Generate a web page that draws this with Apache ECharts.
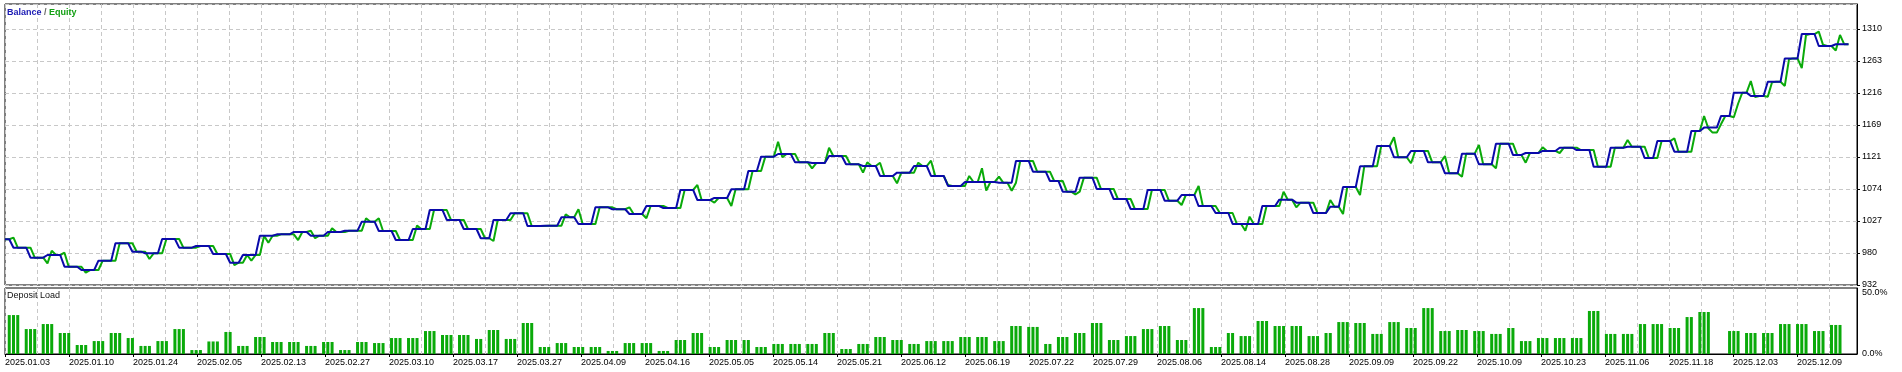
<!DOCTYPE html>
<html>
<head>
<meta charset="utf-8">
<script src="https://cdn.jsdelivr.net/npm/echarts@6/dist/echarts.min.js"></script>
<style>
html,body{margin:0;padding:0;background:#fff;}
#c{width:1902px;height:372px;}
</style>
</head>
<body>
<div id="c"></div>
<script>
// ---------------- DATA ----------------
const dateLabels = ['2025.01.03','2025.01.10','2025.01.24','2025.02.05','2025.02.13','2025.02.27','2025.03.10','2025.03.17','2025.03.27','2025.04.09','2025.04.16','2025.05.05','2025.05.14','2025.05.21','2025.06.12','2025.06.19','2025.07.22','2025.07.29','2025.08.06','2025.08.14','2025.08.28','2025.09.09','2025.09.22','2025.10.09','2025.10.23','2025.11.06','2025.11.18','2025.12.03','2025.12.09'];

const startBalance = 1000;
const lastSlot = 434;      // last sample index on the x axis
const slotCount = 437;     // number of sample positions across the panel

// sample index where each trade's deposit-load bars begin
const groupStart = [1,5,9,13,17,21,25,29,32,36,40,44,48,52,55,59,63,67,71,75,79,83,87,91,95,99,103,107,111,114,
118,122,126,130,134,138,142,146,150,154,158,162,166,170,174,177,181,185,189,193,197,201,205,209,213,217,221,225,229,233,
237,241,245,248,252,256,260,264,268,272,276,280,284,288,291,295,299,303,307,311,314,318,322,326,330,334,338,342,346,350,
354,357,361,365,369,373,377,381,385,388,392,396,399,403,406,410,414,418,422,426,430];

// number of deposit-load bars per trade
const groupBars = [3,3,3,3,3,3,3,2,3,3,3,3,3,2,3,3,3,3,3,3,3,3,3,3,3,3,3,3,2,3,
3,3,3,3,3,3,3,3,3,3,3,3,3,3,2,3,3,3,3,3,3,3,3,3,3,3,3,3,3,3,
3,3,2,3,3,3,3,3,3,3,3,3,3,2,3,3,3,3,3,2,3,3,3,3,3,3,3,3,3,3,
2,3,3,3,3,3,3,3,2,3,3,2,3,2,3,3,3,3,3,3,3];

// balance after each trade
const balanceAfter = [987.5,972.7,976.7,959.4,954.5,968.3,994.0,981.6,979.2,1000.3,987.5,990.0,978.2,965.3,976.7,1005.2,1007.2,1010.7,1005.2,1010.7,1012.6,1025.9,1012.1,998.8,1015.1,1043.1,1028.4,1015.1,1001.4,1028.4,
1038.3,1019.5,1020.0,1032.4,1022.5,1047.1,1044.2,1037.2,1049.0,1046.1,1072.7,1057.9,1060.9,1073.7,1100.7,1121.9,1125.8,1113.5,1112.5,1122.9,1110.6,1108.1,1093.4,1098.3,1108.1,1093.4,1078.6,1084.5,1084.5,1083.5,
1115.5,1099.7,1086.0,1070.2,1090.9,1074.2,1059.4,1044.6,1072.7,1056.9,1065.3,1049.0,1038.7,1022.5,1022.5,1049.0,1058.4,1054.0,1038.7,1048.0,1077.1,1107.6,1137.6,1121.0,1130.3,1113.6,1097.3,1126.3,1110.6,1141.0,
1124.4,1127.3,1130.3,1135.1,1131.7,1107.1,1135.1,1136.6,1119.9,1144.9,1129.2,1159.8,1164.8,1182.0,1216.4,1211.5,1232.6,1267.0,1303.0,1285.3,1287.8];

// equity at the first and second sample after each trade's balance change
const equityA = [1002.3,987.5,964.4,980.1,959.4,954.5,968.3,994.0,981.6,979.2,1000.3,987.5,990.0,978.2,965.3,976.7,1005.2,1007.2,1012.6,1005.2,1010.7,1012.6,1030.9,1012.1,998.8,1015.1,1043.1,1028.4,1015.1,997.4,
1028.4,1038.3,1019.5,1020.0,1044.2,1022.5,1047.1,1047.1,1030.9,1049.0,1046.1,1080.1,1054.0,1049.0,1073.7,1100.7,1144.0,1125.8,1104.7,1135.1,1122.9,1098.3,1113.0,1082.6,1098.3,1116.0,1080.0,1078.6,1104.7,1092.3,
1083.5,1115.5,1099.7,1086.0,1070.2,1090.9,1074.2,1059.4,1044.6,1072.7,1050.5,1078.6,1049.0,1038.7,1012.6,1022.5,1049.0,1047.1,1054.0,1057.9,1037.2,1065.3,1107.6,1150.5,1112.1,1130.3,1122.9,1092.3,1139.1,1104.7,
1141.0,1113.0,1135.7,1127.3,1135.1,1131.7,1107.1,1146.5,1136.6,1119.9,1149.0,1129.2,1182.0,1170.0,1180.0,1233.6,1210.5,1226.3,1252.6,1306.5,1278.5];

const equityB = [987.5,972.7,983.0,959.4,950.6,968.3,994.0,981.6,970.8,1000.3,987.5,990.0,978.2,961.9,976.7,1005.2,1007.2,998.8,1001.4,1016.1,1012.6,1030.9,1012.1,998.8,1020.1,1043.1,1028.4,1015.1,1001.4,1028.4,
1038.3,1019.5,1020.0,1036.8,1022.5,1047.1,1044.2,1037.2,1049.0,1046.1,1072.7,1057.9,1060.9,1073.7,1100.7,1121.9,1121.0,1113.5,1112.5,1122.9,1110.6,1113.6,1093.4,1098.3,1113.0,1093.4,1078.6,1093.4,1071.7,1083.5,
1115.5,1099.7,1086.0,1070.2,1090.9,1074.2,1059.4,1044.6,1072.7,1056.9,1065.3,1049.0,1038.7,1022.5,1033.3,1049.0,1070.2,1054.0,1038.7,1048.0,1077.1,1107.6,1137.6,1121.0,1130.3,1113.6,1097.3,1126.3,1110.6,1141.0,
1124.4,1127.3,1130.3,1135.1,1131.7,1107.1,1135.1,1136.6,1119.9,1144.9,1129.2,1159.8,1163.8,1182.0,1200.0,1210.0,1231.9,1265.8,1301.6,1287.0,1301.6];

// other equity excursions: [sample index, equity]
const equityExtra = [[58,968.3],[62,994.9],[237,1071.7],[252,1066.0],[402,1157.4],[403,1157.4]];

// deposit load (%) per trade
const loadPct = [29.5,18.9,22.7,15.9,6.8,9.8,15.9,12.1,6.1,9.8,18.9,3.0,9.5,16.7,6.1,12.9,9.1,9.1,6.1,9.1,3.0,9.1,8.3,12.1,12.1,17.4,14.4,14.4,11.4,18.2,
11.4,23.5,5.3,8.3,5.3,5.3,2.3,8.3,8.3,2.3,10.6,15.9,5.3,10.6,10.6,5.3,7.6,7.6,7.6,15.9,3.8,7.6,12.9,10.6,7.6,9.8,9.8,12.9,12.9,9.8,
21.2,20.5,7.6,12.9,15.9,23.5,10.6,13.6,18.9,21.2,10.6,34.8,5.3,15.9,13.6,25.0,21.2,21.2,13.6,15.9,24.2,23.5,15.2,24.2,19.7,34.8,17.4,18.2,17.4,15.2,
19.7,9.8,12.1,12.1,12.1,32.6,15.2,15.2,22.7,22.7,19.7,28.0,31.8,0,17.4,15.9,15.9,22.7,22.7,17.4,22.0];

// value axis of the balance panel
const yMin = 932.4, yStep = 47.25, yMax = 1347.3;
const loadMax = 50;

// ---------------- BUILD SERIES ----------------
const slots = Array.from({length: slotCount}, (_, i) => String(i));
const balance = new Array(lastSlot + 1).fill(startBalance);
groupStart.forEach((s, k) => {
  const end = k + 1 < groupStart.length ? groupStart[k + 1] : lastSlot;
  for (let i = s + 1; i <= end; i++) balance[i] = balanceAfter[k];
});
const equity = balance.slice();
groupStart.forEach((s, k) => {
  equity[s + 1] = equityA[k];
  equity[s + 2] = equityB[k];
});
equityExtra.forEach(([i, v]) => { equity[i] = v; });
const load = new Array(lastSlot + 1).fill(null);
groupStart.forEach((s, k) => {
  for (let j = 0; j < groupBars[k]; j++) load[s + j] = loadPct[k];
});

// ---------------- CHART ----------------
const FONT = '"Liberation Sans", Arial, sans-serif';
const BLUE = '#0a0aaa';
const GREEN = '#0aaa0a';
const gridLine = { show: true, lineStyle: { color: '#c8c8c8', type: [4, 3], width: 1 } };
const pitchUnits = 1852 / 32; // vertical grid pitch of 32px across 1852px

const chart = echarts.init(document.getElementById('c'), null, { renderer: 'canvas', width: 1902, height: 372 });
chart.setOption({
  animation: false,
  backgroundColor: '#ffffff',
  textStyle: { fontFamily: FONT },
  title: [
    {
      text: '{b|Balance} {s|/} {e|Equity}',
      left: 7, top: 8, padding: 0,
      textStyle: {
        fontSize: 9, fontFamily: FONT,
        rich: {
          b: { color: '#1a1ab4', fontSize: 9, fontFamily: FONT },
          s: { color: '#666666', fontSize: 9, fontFamily: FONT },
          e: { color: '#14a014', fontSize: 9, fontFamily: FONT }
        }
      }
    },
    {
      text: 'Deposit Load',
      left: 7, top: 291, padding: 0,
      textStyle: { fontSize: 9, fontFamily: FONT, color: '#111111', fontWeight: 'normal' }
    }
  ],
  grid: [
    { left: 5, top: 4, width: 1852, height: 281, show: true, borderColor: '#000', borderWidth: 1, backgroundColor: '#fff' },
    { left: 5, top: 288, width: 1852, height: 66, show: true, borderColor: '#000', borderWidth: 1, backgroundColor: '#fff' }
  ],
  xAxis: [
    { gridIndex: 0, type: 'category', data: slots, boundaryGap: false, show: false, position: 'bottom' },
    { gridIndex: 0, type: 'value', position: 'bottom', min: 0, max: pitchUnits, interval: 1,
      axisLine: { show: false, onZero: false }, axisTick: { show: false }, axisLabel: { show: false }, splitLine: gridLine },
    { gridIndex: 1, type: 'category', data: slots, boundaryGap: false, show: false, position: 'bottom' },
    { gridIndex: 1, type: 'value', position: 'bottom', min: 0, max: pitchUnits, interval: 1,
      axisLine: { show: false, onZero: false }, axisTick: { show: false }, axisLabel: { show: false }, splitLine: gridLine },
    { gridIndex: 1, type: 'value', position: 'bottom', min: 0, max: pitchUnits, interval: 2,
      axisLine: { show: true, onZero: false, lineStyle: { color: '#000', width: 1 } },
      axisTick: { show: true, length: 3, lineStyle: { color: '#000' } },
      splitLine: { show: false },
      axisLabel: {
        show: true, align: 'left', margin: 4, fontSize: 9, fontFamily: FONT, color: '#000',
        showMaxLabel: false,
        formatter: function (v) {
          const r = Math.round(v);
          if (Math.abs(v - r) > 1e-6 || r % 2) return '';
          return dateLabels[r / 2] || '';
        }
      }
    }
  ],
  yAxis: [
    { gridIndex: 0, type: 'value', position: 'right', min: yMin, max: yMax, interval: yStep,
      axisLine: { show: true, onZero: false, lineStyle: { color: '#000' } },
      axisTick: { show: true, length: 3, lineStyle: { color: '#000' } },
      axisLabel: { show: true, margin: 5, fontSize: 9, fontFamily: FONT, color: '#000', showMaxLabel: false,
        formatter: function (v) { return String(Math.round(v)); } },
      splitLine: gridLine },
    { gridIndex: 1, type: 'value', position: 'right', min: 0, max: loadMax, interval: loadMax,
      axisLine: { show: true, onZero: false, lineStyle: { color: '#000' } },
      axisTick: { show: false },
      axisLabel: { show: true, margin: 5, fontSize: 9, fontFamily: FONT, color: '#000',
        verticalAlignMaxLabel: 'top',
        formatter: function (v) { return v.toFixed(1) + '%'; } },
      splitLine: { show: false } }
  ],
  series: [
    { name: 'Equity', type: 'line', xAxisIndex: 0, yAxisIndex: 0, data: equity, symbol: 'none',
      lineStyle: { color: GREEN, width: 2 }, z: 3 },
    { name: 'Balance', type: 'line', xAxisIndex: 0, yAxisIndex: 0, data: balance, symbol: 'none',
      lineStyle: { color: BLUE, width: 2 }, z: 4 },
    { name: 'Deposit Load', type: 'bar', xAxisIndex: 2, yAxisIndex: 1, data: load, barWidth: 3,
      itemStyle: { color: GREEN }, z: 3 }
  ]
});
</script>
</body>
</html>
